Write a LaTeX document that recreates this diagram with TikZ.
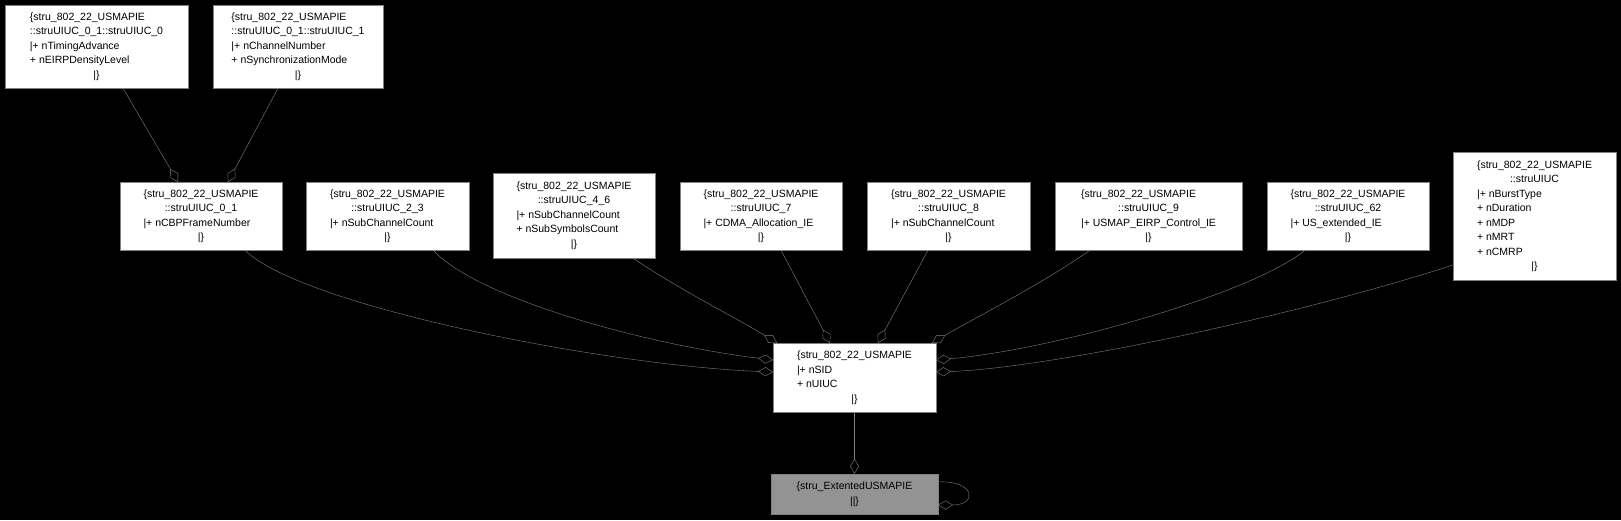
\documentclass[tikz,border=0pt]{standalone}
\usepackage{fontspec}
\setmainfont{Liberation Sans}
\usetikzlibrary{arrows.meta}
\tikzset{
	cls/.style={draw=gray,fill=white,rectangle,inner sep=0pt,font=\fontsize{10.5}{14.5}\selectfont},
	agg/.style={draw=gray,-{Diamond[open,length=15pt,width=9pt]}}
}
\newcommand{\ctr}[1]{\multicolumn{1}{@{}c@{}}{#1}}
\newcommand{\fields}[1]{\begin{tabular}{@{}l@{}}#1\end{tabular}}
\begin{document}
\begin{tikzpicture}[x=1pt,y=-1pt]
	\fill[black](0,0)rectangle(1621,520);
	\node[cls,minimum width=183,minimum height=83](A0)at(96.5,46.5){\fields{\{stru\_802\_22\_USMAPIE\\::struUIUC\_0\_1::struUIUC\_0\\|+ nTimingAdvance\\+ nEIRPDensityLevel\\\ctr{|\}}}};
	\node[cls,minimum width=170,minimum height=83](A1)at(298,46.5){\fields{\{stru\_802\_22\_USMAPIE\\::struUIUC\_0\_1::struUIUC\_1\\|+ nChannelNumber\\+ nSynchronizationMode\\\ctr{|\}}}};
	\node[cls,minimum width=162,minimum height=68](B01)at(201,216){\fields{\{stru\_802\_22\_USMAPIE\\\ctr{::struUIUC\_0\_1}\\|+ nCBPFrameNumber\\\ctr{|\}}}};
	\node[cls,minimum width=163,minimum height=68](B23)at(387.5,216){\fields{\{stru\_802\_22\_USMAPIE\\\ctr{::struUIUC\_2\_3}\\|+ nSubChannelCount\\\ctr{|\}}}};
	\node[cls,minimum width=162,minimum height=85](B46)at(574,215.5){\fields{\{stru\_802\_22\_USMAPIE\\\ctr{::struUIUC\_4\_6}\\|+ nSubChannelCount\\+ nSubSymbolsCount\\\ctr{|\}}}};
	\node[cls,minimum width=162,minimum height=68](B7)at(761,216){\fields{\{stru\_802\_22\_USMAPIE\\\ctr{::struUIUC\_7}\\|+ CDMA\_Allocation\_IE\\\ctr{|\}}}};
	\node[cls,minimum width=163,minimum height=68](B8)at(948.5,216){\fields{\{stru\_802\_22\_USMAPIE\\\ctr{::struUIUC\_8}\\|+ nSubChannelCount\\\ctr{|\}}}};
	\node[cls,minimum width=187,minimum height=68](B9)at(1148.5,216){\fields{\{stru\_802\_22\_USMAPIE\\\ctr{::struUIUC\_9}\\|+ USMAP\_EIRP\_Control\_IE\\\ctr{|\}}}};
	\node[cls,minimum width=162,minimum height=68](B62)at(1348,216){\fields{\{stru\_802\_22\_USMAPIE\\\ctr{::struUIUC\_62}\\|+ US\_extended\_IE\\\ctr{|\}}}};
	\node[cls,minimum width=163,minimum height=128](BU)at(1534.5,216){\fields{\{stru\_802\_22\_USMAPIE\\\ctr{::struUIUC}\\|+ nBurstType\\+ nDuration\\+ nMDP\\+ nMRT\\+ nCMRP\\\ctr{|\}}}};
	\node[cls,minimum width=163,minimum height=69](C)at(854.5,377.5){\fields{\{stru\_802\_22\_USMAPIE\\|+ nSID\\+ nUIUC\\\ctr{|\}}}};
	\node[cls,fill=gray!85,minimum width=167,minimum height=40](D)at(854.5,494){\fields{\{stru\_ExtentedUSMAPIE\\\ctr{||\}}}};
	% aggregation ends
	\coordinate(a0)at(178,182);
	\coordinate(a1)at(228,182);
	\coordinate(cl1)at(773,372);
	\coordinate(cl2)at(773,360);
	\coordinate(ctl)at(777,343);
	\coordinate(ct1)at(830,343);
	\coordinate(ct2)at(878,343);
	\coordinate(ctr)at(932,343);
	\coordinate(cr1)at(936,360);
	\coordinate(cr2)at(936,372);
	\coordinate(dr)at(938,505);
	\draw[agg](A0.south-|123,0)--(a0);
	\draw[agg](A1.south-|278,0)--(a1);
	\draw[agg](B01.south-|245,0)..controls(300,305)and(600,365)..(cl1);
	\draw[agg](B23.south-|433,0)..controls(480,300)and(650,345)..(cl2);
	\draw[agg](B46.south-|633,0)..controls(680,290)and(740,320)..(ctl);
	\draw[agg](B7.south-|781,0)--(ct1);
	\draw[agg](B8.south-|928,0)--(ct2);
	\draw[agg](B9.south-|1090,0)..controls(1040,285)and(980,315)..(ctr);
	\draw[agg](B62.south-|1305,0)..controls(1250,295)and(1050,350)..(cr1);
	\draw[agg](BU.west|-0,265)..controls(1300,315)and(1050,368)..(cr2);
	\draw[agg](C)--(D);
	\draw[agg](D.east|-0,482)..controls(975,480)and(978,505)..(dr);
\end{tikzpicture}
\end{document}
